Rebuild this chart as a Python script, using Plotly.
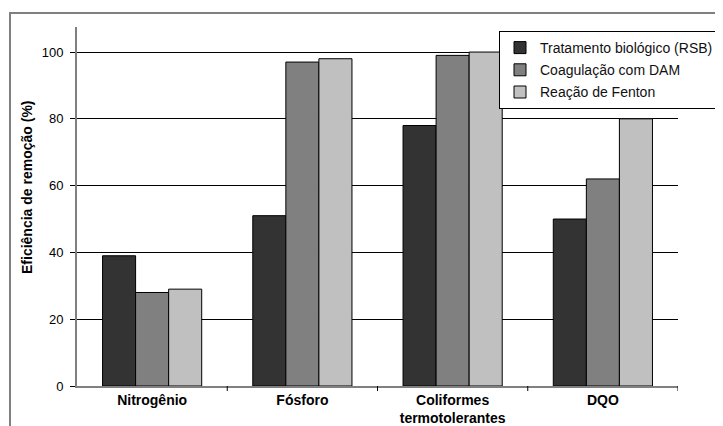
import plotly.graph_objects as go

categories = ["Nitrogênio", "Fósforo", "Coliformes<br>termotolerantes", "DQO"]
series_names = ["Tratamento biológico (RSB)", "Coagulação com DAM", "Reação de Fenton"]
rsb = [39, 51, 78, 50]
dam = [28, 97, 99, 62]
fenton = [29, 98, 100, 80]
colors = ["#333333", "#808080", "#c0c0c0"]
y_ticks = [0, 20, 40, 60, 80, 100]

# the page body has an 8px default margin, so the figure is drawn offset by 8px
OFF = 8
W, H = 723 - OFF, 426 - OFF
# target plot area in screen pixels: left 77, right 678, top 27, bottom 386
ml = 77 - OFF
mt = 27 - OFF
mr = W - (678 - OFF)
mb = H - (386 - OFF)

fig = go.Figure()
for i, (name, vals, col) in enumerate(zip(series_names, [rsb, dam, fenton], colors)):
    fig.add_trace(go.Bar(
        x=list(range(len(categories))), y=vals, name=name, legendgroup="g%d" % i,
        marker=dict(color=col, line=dict(color="#000000", width=1)),
    ))

pw = W - ml - mr
ph = H - mt - mb


def px_x(s):
    return (s - OFF - ml) / pw


def px_y(s):
    return (H - mb - (s - OFF)) / ph


fig.add_shape(type="rect", xref="paper", yref="paper",
              x0=px_x(10), x1=px_x(740), y0=px_y(440), y1=px_y(13),
              line=dict(color="#808080", width=2), fillcolor="rgba(0,0,0,0)", layer="below")

fig.add_annotation(
    text="<b>Eficiência de remoção (%)</b>", textangle=-90,
    xref="paper", yref="paper", x=px_x(27), y=px_y(187),
    xanchor="center", yanchor="middle", showarrow=False,
    font=dict(size=14, color="#000000"),
)

fig.update_layout(
    width=W, height=H,
    margin=dict(l=ml, r=mr, t=mt, b=mb, autoexpand=False),
    paper_bgcolor="white", plot_bgcolor="white",
    barmode="group", bargap=0.34, bargroupgap=0,
    font=dict(family="Liberation Sans, Arial, sans-serif", size=13, color="#000000"),
    showlegend=True,
    legend=dict(
        x=px_x(499), y=px_y(31), xanchor="left", yanchor="top",
        bgcolor="white", bordercolor="#000000", borderwidth=1,
        font=dict(size=14, color="#111111"),
        itemwidth=30, tracegroupgap=1,
    ),
    xaxis=dict(
        tickmode="array", tickvals=list(range(len(categories))),
        ticktext=["<b>%s</b>" % c for c in categories],
        range=[-0.5, len(categories) - 0.5],
        showline=True, linecolor="#808080", linewidth=2,
        showgrid=False, ticks="", tickfont=dict(size=14, color="#000000"),
        zeroline=False,
    ),
    yaxis=dict(
        range=[0, 107.5], tickvals=y_ticks,
        showline=True, linecolor="#808080", linewidth=2,
        showgrid=True, gridcolor="#000000", gridwidth=1,
        ticks="outside", ticklen=5, tickcolor="#000000",
        tickfont=dict(size=13, color="#000000"),
        ticklabelstandoff=4,
        zeroline=False,
    ),
)

for i in range(1, len(categories) + 1):
    fig.add_shape(type="line", xref="x", yref="paper", x0=i - 0.5, x1=i - 0.5,
                  y0=0, y1=-5 / ph, line=dict(color="#000000", width=1))

fig.write_html("out.html")
